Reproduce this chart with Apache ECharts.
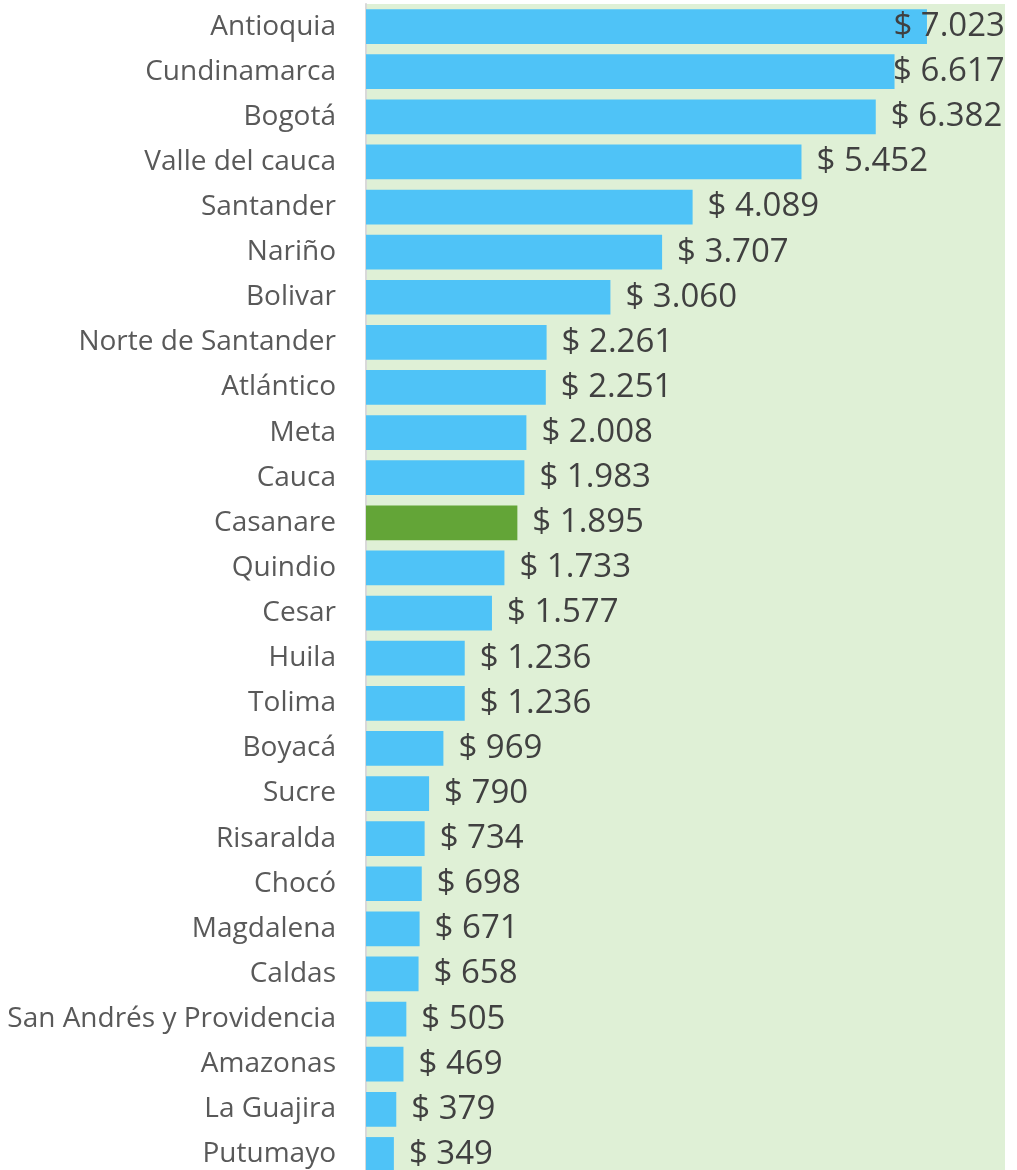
<!DOCTYPE html>
<html><head><meta charset="utf-8">
<script src="https://cdn.jsdelivr.net/npm/echarts@6/dist/echarts.min.js"></script>
<style>html,body{margin:0;padding:0;background:#fff}#c{width:1017px;height:1170px}</style>
</head><body><div id="c"></div>
<script>
const categories = ["Antioquia","Cundinamarca","Bogotá","Valle del cauca","Santander","Nariño","Bolivar","Norte de Santander","Atlántico","Meta","Cauca","Casanare","Quindio","Cesar","Huila","Tolima","Boyacá","Sucre","Risaralda","Chocó","Magdalena","Caldas","San Andrés y Providencia","Amazonas","La Guajira","Putumayo"];
const values = [7023,6617,6382,5452,4089,3707,3060,2261,2251,2008,1983,1895,1733,1577,1236,1236,969,790,734,698,671,658,505,469,379,349];
const highlight = "Casanare";

function fmt(v){return "$ " + String(v).replace(/\B(?=(\d{3})+(?!\d))/g, ".");}

// labels that would overflow the plot's right edge are pulled back inside it
const labelOverrides = {0:{position:"insideRight", distance:-78}, 1:{position:"insideRight", distance:-110}};

const data = values.map((v,i)=>{
  const d = {value:v};
  if (categories[i]===highlight) d.itemStyle = {color:"#63A537"};
  if (labelOverrides[i]) d.label = labelOverrides[i];
  return d;
});

const chart = echarts.init(document.getElementById('c'));
chart.setOption({
  animation:false,
  grid:{left:366, right:12, top:4, height:1173, outerBoundsMode:"none", containLabel:false,
        show:true, backgroundColor:"#DFF0D6", borderWidth:0},
  xAxis:{type:"value", min:0, max:8000, show:false},
  yAxis:{type:"category", data:categories, inverse:true,
    axisLine:{show:true, lineStyle:{color:"#D9D9D9", width:2}},
    axisTick:{show:false},
    axisLabel:{margin:30, fontSize:28, color:"#595959", fontFamily:"Open Sans"}},
  series:[{type:"bar", data:data, barCategoryGap:"23%",
    itemStyle:{color:"#4FC3F7"},
    label:{show:true, position:"right", distance:15, fontSize:33, color:"#404040", fontFamily:"Open Sans",
      formatter:p=>fmt(p.value)}}]
});
</script></body></html>
